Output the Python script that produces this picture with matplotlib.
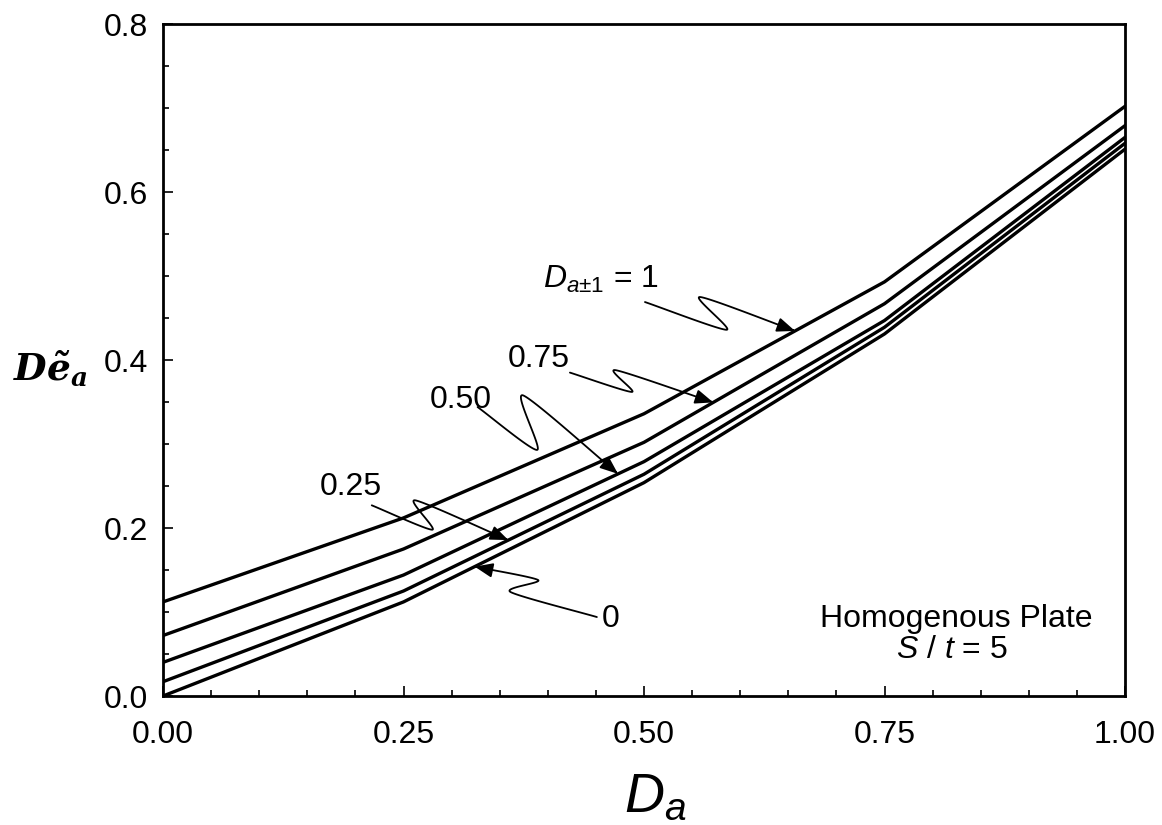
import numpy as np
import matplotlib.pyplot as plt
from matplotlib.patches import FancyArrowPatch
from matplotlib.path import Path

plt.rcParams['font.family'] = ['Liberation Sans', 'DejaVu Sans']
plt.rcParams['mathtext.fontset'] = 'custom'
plt.rcParams['mathtext.rm'] = 'Liberation Sans'
plt.rcParams['mathtext.it'] = 'Liberation Sans:italic'
plt.rcParams['mathtext.bf'] = 'DejaVu Serif:italic:bold'

# x values (D_a)
d_alpha = [0.0, 0.25, 0.50, 0.75, 1.00]

# one curve per value of D_{a+-1}
curve_labels = ['$D_{a±1}$ = 1', '0.75', '0.50', '0.25', '0']
curve_100 = [0.112, 0.212, 0.336, 0.493, 0.702]
curve_075 = [0.072, 0.175, 0.302, 0.467, 0.679]
curve_050 = [0.040, 0.144, 0.279, 0.447, 0.665]
curve_025 = [0.017, 0.125, 0.264, 0.439, 0.658]
curve_000 = [0.000, 0.112, 0.254, 0.431, 0.651]
curves = [curve_100, curve_075, curve_050, curve_025, curve_000]

x_ticks = [0.0, 0.25, 0.50, 0.75, 1.00]
x_tick_labels = ['0.00', '0.25', '0.50', '0.75', '1.00']
y_ticks = [0.0, 0.2, 0.4, 0.6, 0.8]
y_tick_labels = ['0.0', '0.2', '0.4', '0.6', '0.8']

# label placement: text anchor, arrow start, first bend, second bend, x of arrow tip
label_layout = [
    ((0.395, 0.486), (0.501, 0.469), (0.586, 0.436), (0.558, 0.475), 0.657),
    ((0.358, 0.392), (0.423, 0.385), (0.4875, 0.362), (0.470, 0.388), 0.572),
    ((0.2775, 0.343), (0.327, 0.344), (0.389, 0.293), (0.374, 0.358), 0.473),
    ((0.163, 0.239), (0.217, 0.227), (0.280, 0.198), (0.262, 0.233), 0.359),
    ((0.456, 0.082), (0.451, 0.094), (0.361, 0.124), (0.390, 0.138), 0.324),
]

# pixels per data unit, so the bends come out round on screen
SX, SY = 962.0, 840.0


def squiggle(p0, p1, p2, p3, k=0.35):
    """Wavy leader line through p0..p3 (Hermite spline, hairpin turns at p1 and p2)."""
    p = [np.array([a[0] * SX, a[1] * SY]) for a in (p0, p1, p2, p3)]
    m = [p[1] - p[0], k * (p[2] - p[0]), k * (p[3] - p[1]), p[3] - p[2]]
    m[0] = 0.6 * m[0]
    m[3] = 0.6 * m[3]
    t = np.linspace(0, 1, 40)[:, None]
    h00 = 2 * t ** 3 - 3 * t ** 2 + 1
    h10 = t ** 3 - 2 * t ** 2 + t
    h01 = -2 * t ** 3 + 3 * t ** 2
    h11 = t ** 3 - t ** 2
    segs = []
    for i in range(3):
        segs.append(h00 * p[i] + h10 * m[i] + h01 * p[i + 1] + h11 * m[i + 1])
    pts = np.vstack(segs)
    return pts / [SX, SY]


fig = plt.figure(figsize=(11.62, 8.25), dpi=100)
ax = fig.add_axes([163 / 1162, 1 - 696 / 825, 962 / 1162, 672 / 825])

for ys in curves:
    ax.plot(d_alpha, ys, color='black', lw=2.4, solid_joinstyle='round')

ax.set_xlim(0, 1)
ax.set_ylim(0, 0.8)
ax.set_xticks(x_ticks)
ax.set_xticklabels(x_tick_labels)
ax.set_yticks(y_ticks)
ax.set_yticklabels(y_tick_labels)
ax.set_xticks(np.arange(0, 1.001, 0.05), minor=True)
ax.set_yticks(np.arange(0, 0.801, 0.05), minor=True)
ax.tick_params(which='both', direction='in', width=1.2, labelsize=23)
ax.tick_params(which='major', length=7)
ax.tick_params(which='minor', length=4.5)
ax.tick_params(axis='x', pad=17)
ax.tick_params(axis='y', pad=11)
for s in ax.spines.values():
    s.set_linewidth(2)

# curve labels with wavy leader arrows
for label, ys, (txt, p0, p1, p2, tip_x) in zip(curve_labels, curves, label_layout):
    ax.text(txt[0], txt[1], label, fontsize=23, ha='left', va='baseline')
    tip = (tip_x, np.interp(tip_x, d_alpha, ys))
    pts = squiggle(p0, p1, p2, tip)
    arrow = FancyArrowPatch(path=Path(pts), arrowstyle='-|>,head_length=0.55,head_width=0.22',
                            mutation_scale=20, lw=1.3, color='black')
    ax.add_patch(arrow)

ax.text(0.825, 0.082, 'Homogenous Plate', fontsize=23, ha='center', va='baseline')
ax.text(0.82, 0.045, '$S$ / $t$ = 5', fontsize=23, ha='center', va='baseline')

fig.text(655 / 1162, 1 - 812 / 825, '$D_a$', fontsize=40, ha='center', va='baseline')
fig.text(13 / 1162, 1 - 380 / 825, r'$\mathbf{D\tilde{e}_a}$', fontsize=27, ha='left', va='baseline')

fig.savefig('out.png', dpi=100)
